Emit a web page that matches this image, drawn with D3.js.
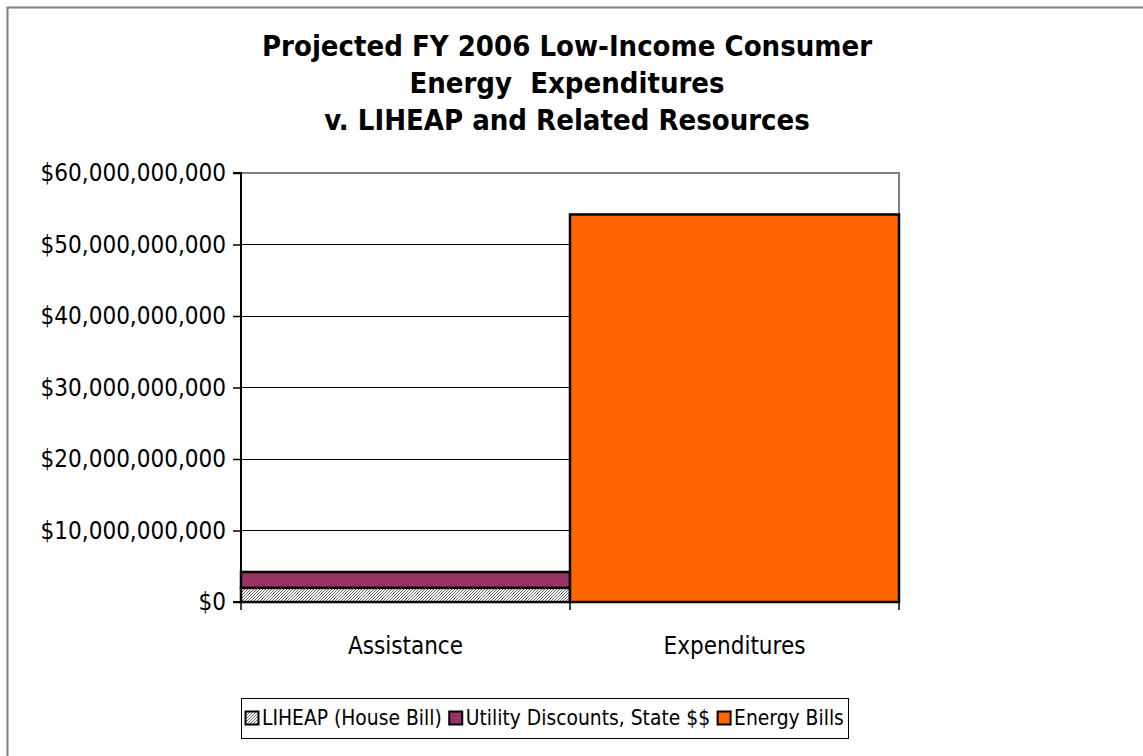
<!DOCTYPE html>
<html><head><meta charset="utf-8">
<script src="https://cdn.jsdelivr.net/npm/d3@7"></script>
<style>body{margin:0;background:#fff}</style>
</head><body>
<svg id="c" width="1143" height="756"></svg>
<script>
const categories = ["Assistance", "Expenditures"];
const seriesNames = ["LIHEAP (House Bill)", "Utility Discounts, State $$", "Energy Bills"];
const liheap = [1.98e9, 0];
const utilityDiscounts = [2.22e9, 0];
const energyBills = [0, 54.2e9];
const yTicks = [0, 10e9, 20e9, 30e9, 40e9, 50e9, 60e9];
const titleLines = ["Projected FY 2006 Low-Income Consumer", "Energy  Expenditures", "v. LIHEAP and Related Resources"];

const FONT = "'DejaVu Sans Condensed','DejaVu Sans',sans-serif";
const svg = d3.select("#c");

const defs = svg.append("defs");
const pat = defs.append("pattern").attr("id","hatch").attr("patternUnits","userSpaceOnUse")
  .attr("width",3).attr("height",3);
pat.append("rect").attr("width",3).attr("height",3).attr("fill","#fff");
pat.append("path").attr("d","M-1,1 L1,-1 M0,3 L3,0 M2,4 L4,2").attr("stroke","#666").attr("stroke-width",1);

// outer border
svg.append("rect").attr("x",7.5).attr("y",7.5).attr("width",1200).attr("height",800)
  .attr("fill","none").attr("stroke","#808080").attr("stroke-width",2);

const L = 241, R = 899, T = 173, B = 602;
const x = d3.scaleBand().domain(categories).range([L, R]).padding(0);
const y = d3.scaleLinear().domain([0, 60e9]).range([B, T]);

// gridlines
svg.append("g").selectAll("line").data(yTicks.slice(1,-1)).join("line")
  .attr("x1",L).attr("x2",R).attr("y1",d=>y(d)).attr("y2",d=>y(d))
  .attr("stroke","#000").attr("stroke-width",1).attr("shape-rendering","crispEdges");

// plot frame top/right gray
svg.append("path").attr("d",`M${L},${T}H${R}V${B}`).attr("fill","none")
  .attr("stroke","#808080").attr("stroke-width",2);

// stacked data
const rows = categories.map((c,i)=>({cat:c, "LIHEAP (House Bill)":liheap[i], "Utility Discounts, State $$":utilityDiscounts[i], "Energy Bills":energyBills[i]}));
const stack = d3.stack().keys(seriesNames)(rows);
const fills = {"LIHEAP (House Bill)":"url(#hatch)","Utility Discounts, State $$":"#993366","Energy Bills":"#FF6600"};

svg.append("g").selectAll("g").data(stack).join("g").attr("fill",d=>fills[d.key])
  .selectAll("rect").data(d=>d.filter(p=>p[1]-p[0]>0)).join("rect")
  .attr("x",d=>x(d.data.cat)).attr("width",x.bandwidth())
  .attr("y",d=>y(d[1])).attr("height",d=>y(d[0])-y(d[1]))
  .attr("stroke","#000").attr("stroke-width",2.5);

// y axis
const yAxis = d3.axisLeft(y).tickValues(yTicks).tickSize(8).tickPadding(7)
  .tickFormat(d=>"$"+d3.format(",")(d));
const ya = svg.append("g").attr("transform",`translate(${L},0)`).call(yAxis);
ya.select(".domain").attr("stroke","#000").attr("stroke-width",2).attr("d",`M-8,${B}H0V${T}H-8`);
ya.selectAll(".tick line").attr("stroke","#000").attr("stroke-width",1.5);
ya.selectAll("text").attr("font-family",FONT).attr("font-size",24).attr("fill","#000");

// x axis
const xa = svg.append("g").attr("transform",`translate(0,${B})`);
xa.append("line").attr("x1",L).attr("x2",R).attr("stroke","#000").attr("stroke-width",2);
xa.selectAll(".tk").data([L, ...categories.map(c=>x(c)+x.bandwidth())]).join("line")
  .attr("x1",d=>d).attr("x2",d=>d).attr("y1",0).attr("y2",8).attr("stroke","#000").attr("stroke-width",1.5);
xa.selectAll("text").data(categories).join("text")
  .attr("x",d=>x(d)+x.bandwidth()/2).attr("y",52).attr("text-anchor","middle")
  .attr("font-family",FONT).attr("font-size",24).text(d=>d);

// title
svg.append("g").selectAll("text").data(titleLines).join("text")
  .attr("x",567).attr("y",(d,i)=>56+i*37).attr("text-anchor","middle")
  .attr("font-family",FONT).attr("font-weight","bold").attr("font-size",29)
  .attr("xml:space","preserve").style("white-space","pre").text(d=>d);

// legend
const boxX = 241, boxW = 607, boxY = 698, boxH = 40;
const lg = svg.append("g");
lg.append("rect").attr("x",boxX+0.5).attr("y",boxY+0.5).attr("width",boxW).attr("height",boxH)
  .attr("fill","#fff").attr("stroke","#000").attr("stroke-width",1);
const sw = 13, swGap = 4, itemGap = 7, pad = 4;
let fs = 24;
const items = lg.selectAll("g.it").data(seriesNames).join("g").attr("class","it");
items.append("rect").attr("x",0.5).attr("y",0.5).attr("width",sw).attr("height",sw)
  .attr("fill",d=>fills[d]).attr("stroke","#000").attr("stroke-width",2);
const texts = items.append("text").attr("x",sw+swGap).attr("font-family",FONT).attr("font-size",fs).text(d=>d);
let widths = texts.nodes().map(n=>n.getComputedTextLength());
const avail = boxW - 2*pad - seriesNames.length*(sw+swGap) - (seriesNames.length-1)*itemGap;
const total = d3.sum(widths);
if (total > avail) { fs = fs*avail/total; texts.attr("font-size",fs); widths = texts.nodes().map(n=>n.getComputedTextLength()); }
texts.attr("y",sw/2 + fs*0.36);
let cx = boxX + pad;
items.attr("transform",(d,i)=>{ const t=`translate(${cx},${boxY+13})`; cx += sw+swGap+widths[i]+itemGap; return t; });
</script>
</body></html>
